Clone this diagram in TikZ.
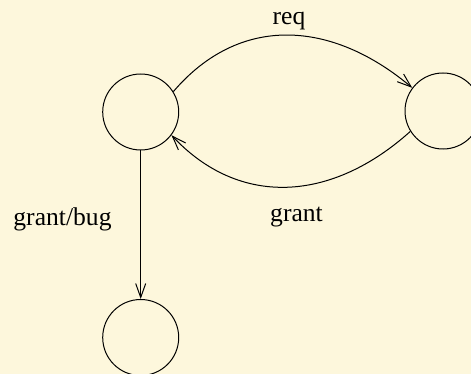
\documentclass[tikz,border=0pt]{standalone}
\usepackage{fontspec}
\setmainfont{Liberation Serif}
\usetikzlibrary{arrows.meta}

\definecolor{paper}{RGB}{253,247,220}

\tikzset{every picture/.style={line width=0.75pt}}
\tikzset{
  state/.style={draw,circle,inner sep=0pt,minimum size=57pt},
  edge/.style={-{Straight Barb[length=10.5pt,width=7.5pt,line width=0.75pt]}},
  lbl/.style={anchor=base,inner sep=0.75pt,font=\fontsize{19.2}{23}\selectfont}
}

\begin{document}
\begin{tikzpicture}[x=0.75pt,y=0.75pt,yscale=-1,xscale=1]
\useasboundingbox (0,0) rectangle (471,374);
\fill [paper] (0,0) rectangle (471,374);
\clip (0,0) rectangle (471,374);

%Shape: Circle [id:idle]
\node [state] (idle) at (140.7,112) {};
%Shape: Circle [id:wait]
\node [state] (wait) at (443,111) {};
%Shape: Circle [id:bug]
\node [state] (bug) at (140.7,337.5) {};

%Curve Lines [id:req]
\draw [edge] (idle.32) .. controls (239.8,13.8) and (331.8,20.2) .. (wait.143) ;
%Curve Lines [id:grant]
\draw [edge] (wait.212) .. controls (331.8,202) and (239.8,208) .. (idle.323) ;
%Straight Lines [id:grantbug]
\draw [edge] (idle.south) -- (bug.north) ;

% Text Node
\draw (289,25) node [lbl] (treq) {req};
% Text Node
\draw (296.5,221) node [lbl] (tgrant) {grant};
% Text Node
\draw (62.5,225) node [lbl] (tgrantbug) {grant/bug};

\end{tikzpicture}
\end{document}
